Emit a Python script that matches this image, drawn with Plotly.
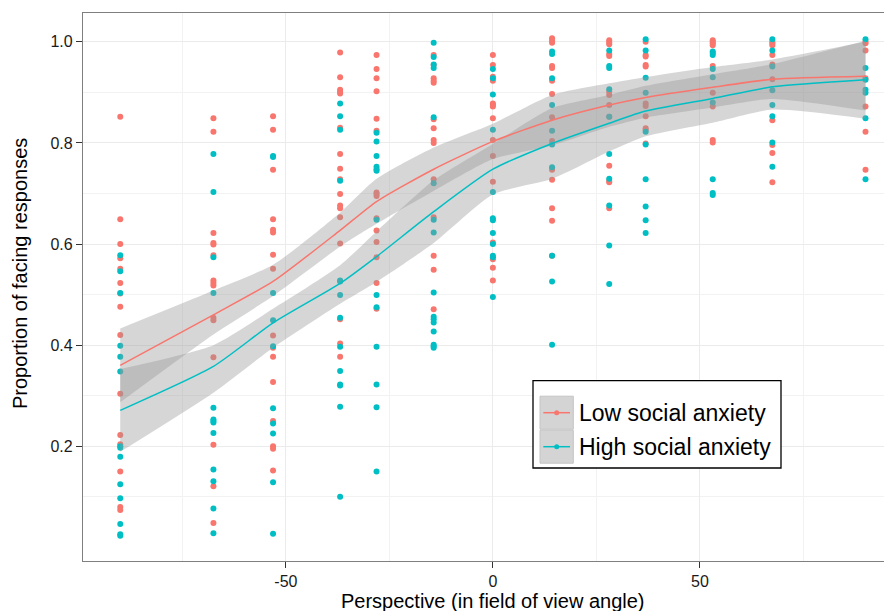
import plotly.graph_objects as go

# ---------------- data ----------------
angles = [-90, -67.5, -53.1, -36.9, -28.1, -14.3, 0, 14.3, 28.1, 36.9, 53.1, 67.5, 90]

low_points = [
    [0.852, 0.649, 0.600, 0.572, 0.551, 0.523, 0.502, 0.476, 0.420, 0.304, 0.222, 0.204, 0.150, 0.080, 0.074],
    [0.849, 0.822, 0.622, 0.602, 0.599, 0.578, 0.528, 0.523, 0.518, 0.454, 0.449, 0.376, 0.203, 0.121, 0.048],
    [0.853, 0.826, 0.747, 0.649, 0.628, 0.623, 0.579, 0.551, 0.419, 0.395, 0.377, 0.327, 0.250, 0.200, 0.195, 0.152],
    [0.979, 0.930, 0.905, 0.901, 0.898, 0.830, 0.778, 0.749, 0.728, 0.699, 0.676, 0.671, 0.653, 0.601, 0.451, 0.403, 0.377],
    [0.974, 0.946, 0.928, 0.902, 0.848, 0.824, 0.702, 0.699, 0.695, 0.651, 0.627, 0.604, 0.574, 0.523, 0.472],
    [0.974, 0.954, 0.928, 0.923, 0.919, 0.847, 0.829, 0.806, 0.800, 0.728, 0.653, 0.577, 0.549, 0.471],
    [0.974, 0.954, 0.931, 0.923, 0.878, 0.875, 0.872, 0.849, 0.806, 0.774, 0.723, 0.603, 0.570, 0.553, 0.528],
    [1.007, 1.002, 0.998, 0.952, 0.948, 0.923, 0.897, 0.851, 0.804, 0.747, 0.727, 0.671, 0.646, 0.577],
    [1.003, 0.999, 0.995, 0.976, 0.972, 0.901, 0.895, 0.875, 0.852, 0.755, 0.725, 0.722, 0.671],
    [1.000, 0.974, 0.971, 0.954, 0.951, 0.878, 0.873, 0.853, 0.829, 0.826, 0.799],
    [1.003, 1.000, 0.997, 0.993, 0.952, 0.899, 0.872, 0.806, 0.801],
    [1.000, 0.997, 0.993, 0.974, 0.955, 0.926, 0.845, 0.796, 0.780, 0.722],
    [1.000, 0.997, 0.983, 0.928, 0.872, 0.822, 0.747],
]

high_points = [
    [0.578, 0.546, 0.503, 0.399, 0.377, 0.348, 0.200, 0.197, 0.179, 0.125, 0.097, 0.046, 0.026, 0.023],
    [0.778, 0.703, 0.574, 0.503, 0.276, 0.253, 0.250, 0.247, 0.226, 0.154, 0.131, 0.077, 0.028],
    [0.774, 0.772, 0.503, 0.449, 0.398, 0.275, 0.245, 0.225, 0.129, 0.027],
    [0.878, 0.853, 0.826, 0.725, 0.528, 0.526, 0.499, 0.454, 0.397, 0.349, 0.322, 0.320, 0.278, 0.100],
    [0.820, 0.803, 0.774, 0.753, 0.748, 0.745, 0.648, 0.499, 0.475, 0.397, 0.322, 0.277, 0.150],
    [0.998, 0.970, 0.955, 0.948, 0.851, 0.720, 0.648, 0.623, 0.504, 0.456, 0.451, 0.445, 0.427, 0.401, 0.398, 0.395],
    [0.946, 0.928, 0.896, 0.826, 0.703, 0.651, 0.647, 0.622, 0.600, 0.577, 0.574, 0.495],
    [0.981, 0.976, 0.928, 0.875, 0.824, 0.797, 0.752, 0.577, 0.526, 0.401],
    [0.983, 0.952, 0.948, 0.906, 0.852, 0.778, 0.729, 0.676, 0.597, 0.521],
    [1.005, 0.983, 0.929, 0.899, 0.822, 0.797, 0.728, 0.674, 0.647, 0.622],
    [0.981, 0.978, 0.974, 0.946, 0.930, 0.880, 0.728, 0.701, 0.697],
    [1.005, 0.983, 0.951, 0.904, 0.875, 0.853, 0.801, 0.753],
    [1.005, 0.948, 0.925, 0.905, 0.899, 0.849, 0.728],
]

low_fit = [0.360, 0.460, 0.526, 0.627, 0.684, 0.748, 0.803, 0.845, 0.875, 0.890, 0.910, 0.926, 0.932]
low_hi = [0.433, 0.508, 0.559, 0.662, 0.729, 0.791, 0.838, 0.895, 0.918, 0.930, 0.950, 0.965, 1.000]
low_lo = [0.287, 0.421, 0.497, 0.595, 0.640, 0.705, 0.768, 0.795, 0.832, 0.850, 0.870, 0.887, 0.864]

high_fit = [0.271, 0.358, 0.444, 0.522, 0.575, 0.664, 0.748, 0.799, 0.839, 0.863, 0.888, 0.911, 0.925]
high_hi = [0.353, 0.400, 0.472, 0.558, 0.625, 0.726, 0.798, 0.869, 0.895, 0.913, 0.936, 0.956, 1.002]
high_lo = [0.189, 0.306, 0.395, 0.482, 0.525, 0.602, 0.698, 0.729, 0.783, 0.813, 0.840, 0.866, 0.848]

group_names = ["Low social anxiety", "High social anxiety"]
x_ticks = [-50, 0, 50]
y_ticks = [0.2, 0.4, 0.6, 0.8, 1.0]
y_ticktext = ["0.2", "0.4", "0.6", "0.8", "1.0"]

# ---------------- style ----------------
RED = "#F8766D"
TEAL = "#00BFC4"
BAND = "rgba(153,153,153,0.4)"
FONT = "Liberation Sans, Arial, Helvetica, sans-serif"

OFF = 8  # page body margin offset
W, H = 892 - OFF, 611 - OFF
ML, MR, MT, MB = 83 - OFF, 0, 13 - OFF, 50
PW, PH = W - ML - MR, H - MT - MB


def px_x(p):
    return (p - OFF - ML) / PW


def px_y(p):
    return (H - MB - (p - OFF)) / PH


def flatten(points):
    xs, ys = [], []
    for a, vals in zip(angles, points):
        for v in vals:
            xs.append(a)
            ys.append(v)
    return xs, ys


fig = go.Figure()

for pts, col in [(low_points, RED), (high_points, TEAL)]:
    xs, ys = flatten(pts)
    fig.add_trace(go.Scatter(x=xs, y=ys, mode="markers",
                             marker=dict(color=col, size=6, line=dict(width=0)),
                             showlegend=False, hoverinfo="skip"))

for lo, hi in [(low_lo, low_hi), (high_lo, high_hi)]:
    fig.add_trace(go.Scatter(x=angles, y=lo, mode="lines",
                             line=dict(width=0, shape="spline", smoothing=0.6),
                             showlegend=False, hoverinfo="skip"))
    fig.add_trace(go.Scatter(x=angles, y=hi, mode="lines", fill="tonexty",
                             fillcolor=BAND,
                             line=dict(width=0, shape="spline", smoothing=0.6),
                             showlegend=False, hoverinfo="skip"))

for fit, col, name in [(low_fit, RED, group_names[0]), (high_fit, TEAL, group_names[1])]:
    fig.add_trace(go.Scatter(x=angles, y=fit, mode="lines", name=name,
                             line=dict(color=col, width=1.5, shape="spline", smoothing=0.6),
                             showlegend=False))

axis_common = dict(
    showgrid=True, gridcolor="#ebebeb", gridwidth=1,
    zeroline=False, showline=True, linecolor="#7f7f7f", linewidth=1.3,
    ticks="outside", ticklen=6, tickcolor="#333333", tickwidth=1,
    tickfont=dict(family=FONT, size=16, color="#1a1a1a"),
)

fig.update_xaxes(range=[-99, 96.4], tickvals=x_ticks, ticktext=[str(t) for t in x_ticks],
                 mirror=True,
                 minor=dict(tickvals=[-75, -25, 25, 75], showgrid=True,
                            gridcolor="#f2f2f2", gridwidth=0.6, ticks=""),
                 **axis_common)
fig.update_yaxes(range=[-0.027, 1.057], tickvals=y_ticks, ticktext=y_ticktext,
                 mirror=False,
                 minor=dict(tickvals=[0.1, 0.3, 0.5, 0.7, 0.9], showgrid=True,
                            gridcolor="#f2f2f2", gridwidth=0.6, ticks=""),
                 **axis_common)

shapes = []
annotations = []

# legend box drawn manually
shapes.append(dict(type="rect", xref="paper", yref="paper",
                   x0=px_x(533), x1=px_x(781), y0=px_y(468), y1=px_y(380.7),
                   fillcolor="white", line=dict(color="black", width=1.3), layer="above"))
rows = [(412.7, RED, group_names[0]), (446.7, TEAL, group_names[1])]
for i, (cy, col, name) in enumerate(rows):
    shapes.append(dict(type="rect", xref="paper", yref="paper",
                       x0=px_x(540), x1=px_x(573.3), y0=px_y(cy + 16.5), y1=px_y(cy - 16.5),
                       fillcolor="#d4d4d4", line=dict(color="#c4c4c4", width=1), layer="above"))
    shapes.append(dict(type="line", xref="paper", yref="paper",
                       x0=px_x(543.3), x1=px_x(570), y0=px_y(cy), y1=px_y(cy),
                       line=dict(color=col, width=1.5), layer="above"))
    shapes.append(dict(type="circle", xref="paper", yref="paper",
                       x0=px_x(554.2), x1=px_x(559.2), y0=px_y(cy + 2.5), y1=px_y(cy - 2.5),
                       fillcolor=col, line=dict(width=0), layer="above"))
    annotations.append(dict(text=name, xref="paper", yref="paper",
                            x=px_x(577), y=px_y(cy), xanchor="left", yanchor="middle",
                            showarrow=False, font=dict(family=FONT, size=23, color="black")))

annotations.append(dict(text="Perspective (in field of view angle)", xref="paper", yref="paper",
                        x=px_x(492), y=px_y(601), xanchor="center", yanchor="middle",
                        showarrow=False, font=dict(family=FONT, size=20, color="black")))
annotations.append(dict(text="Proportion of facing responses", xref="paper", yref="paper",
                        x=px_x(20), y=px_y(274), xanchor="center", yanchor="middle",
                        textangle=-90, showarrow=False,
                        font=dict(family=FONT, size=20, color="black")))

fig.update_layout(
    width=W, height=H,
    margin=dict(l=ML, r=MR, t=MT, b=MB, pad=0),
    paper_bgcolor="white", plot_bgcolor="white",
    showlegend=False,
    shapes=shapes, annotations=annotations,
)

fig.write_html("out.html")
